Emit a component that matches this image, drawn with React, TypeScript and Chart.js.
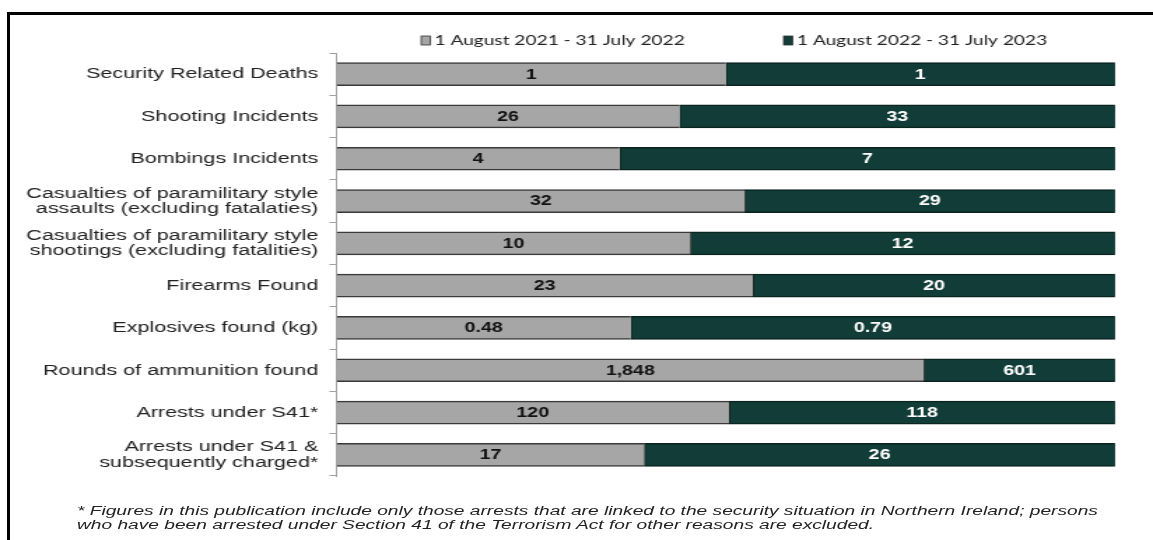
import React, { useEffect, useRef } from "react";
import { Chart, registerables } from "chart.js";

Chart.register(...registerables);

const categories: (string | string[])[] = [
  "Security Related Deaths",
  "Shooting Incidents",
  "Bombings Incidents",
  ["Casualties of paramilitary style", "assaults (excluding fatalaties)"],
  ["Casualties of paramilitary style", "shootings (excluding fatalities)"],
  "Firearms Found",
  "Explosives found (kg)",
  "Rounds of ammunition found",
  "Arrests under S41*",
  ["Arrests under S41 &", "subsequently charged*"],
];

const period1Label = "1 August 2021 - 31 July 2022";
const period2Label = "1 August 2022 - 31 July 2023";

const period1Values = [1, 26, 4, 32, 10, 23, 0.48, 1848, 120, 17];
const period2Values = [1, 33, 7, 29, 12, 20, 0.79, 601, 118, 26];

const footnoteLines = [
  "* Figures in this publication include only those arrests that are linked to the security situation in Northern Ireland; persons",
  "who have been arrested under Section 41 of the Terrorism Act for other reasons are excluded.",
];

const GREY = "#a6a6a6";
const GREEN = "#113c37";

// horizontal stretch of the original picture
const LOGICAL_W = 824;
const STRETCH = 1153 / LOGICAL_W;

const shareOf = (a: number[], b: number[]) => a.map((v, i) => (v / (v + b[i])) * 100);

const formatValue = (v: number) =>
  Number.isInteger(v) ? v.toLocaleString("en-GB") : v.toFixed(2);

export default function App() {
  const canvasRef = useRef<HTMLCanvasElement | null>(null);

  useEffect(() => {
    if (!canvasRef.current) return;
    const raw = [period1Values, period2Values];

    const valueLabels = {
      id: "valueLabels",
      afterDatasetsDraw(chart: any) {
        const ctx = chart.ctx;
        ctx.save();
        ctx.font = "bold 14px 'Liberation Sans', Arial, sans-serif";
        ctx.textAlign = "center";
        ctx.textBaseline = "middle";
        chart.data.datasets.forEach((ds: any, di: number) => {
          const meta = chart.getDatasetMeta(di);
          ctx.fillStyle = di === 0 ? "#111" : "#ffffff";
          meta.data.forEach((el: any, i: number) => {
            const cx = (el.x + el.base) / 2;
            ctx.fillText(formatValue(raw[di][i]), cx, el.y + 0.5);
          });
        });
        ctx.restore();
      },
    };

    const customLegend = {
      id: "customLegend",
      afterDraw(chart: any) {
        const ctx = chart.ctx;
        ctx.save();
        const items = [
          { label: period1Label, color: GREY, bx: 301, tx: 310.5 },
          { label: period2Label, color: GREEN, bx: 560, tx: 569.5 },
        ];
        const yc = 40.5;
        ctx.font = "15px Lato, 'Open Sans', sans-serif";
        const measured = ctx.measureText(period1Label).width;
        const size = (15 * 179) / measured;
        ctx.font = `${size}px Lato, 'Open Sans', sans-serif`;
        ctx.textBaseline = "middle";
        ctx.textAlign = "left";
        items.forEach((it) => {
          ctx.fillStyle = it.color;
          ctx.fillRect(it.bx, yc - 4.5, 6.5, 9);
          ctx.strokeStyle = "#333";
          ctx.lineWidth = 0.8;
          ctx.strokeRect(it.bx, yc - 4.5, 6.5, 9);
          ctx.fillStyle = "#222";
          ctx.fillText(it.label, it.tx, yc + 0.5);
        });
        ctx.restore();
      },
    };

    const chart = new Chart(canvasRef.current, {
      type: "bar",
      data: {
        labels: categories,
        datasets: [
          {
            label: period1Label,
            data: shareOf(period1Values, period2Values),
            backgroundColor: GREY,
            borderColor: "#3a3a3a",
            borderWidth: { top: 1.5, bottom: 1.5, left: 0, right: 0 },
            borderSkipped: false,
            barThickness: 23,
          },
          {
            label: period2Label,
            data: shareOf(period2Values, period1Values),
            backgroundColor: GREEN,
            borderColor: "#0a2420",
            borderWidth: { top: 1.5, bottom: 1.5, left: 1.2, right: 0.8 },
            borderSkipped: false,
            barThickness: 23,
          },
        ],
      },
      options: {
        responsive: false,
        animation: false,
        indexAxis: "y",
        layout: { padding: { top: 53, bottom: 64, left: 0, right: LOGICAL_W - 1115 / STRETCH } },
        plugins: {
          legend: { display: false },
          tooltip: { enabled: false },
        },
        scales: {
          x: { display: false, stacked: true, min: 0, max: 100 },
          y: {
            stacked: true,
            afterFit: (scale: any) => {
              scale.width = 336.5 / STRETCH;
            },
            grid: {
              offset: true,
              drawOnChartArea: false,
              drawTicks: true,
              tickLength: 5,
              color: "#a0a0a0",
              lineWidth: 1,
            },
            border: { display: true, color: "#a0a0a0", width: 1 },
            ticks: {
              autoSkip: false,
              padding: 8,
              color: "#222",
              font: { family: "'Liberation Sans', Arial, sans-serif", size: 15.4, lineHeight: 1.0 },
            },
          },
        },
      },
      plugins: [valueLabels, customLegend],
    } as any);

    return () => chart.destroy();
  }, []);

  return (
    <div>
      <div
        style={{
          position: "fixed",
          left: 7,
          top: 12,
          width: 1153 - 7,
          height: 540 - 12,
          borderTop: "3px solid #000",
          borderLeft: "3px solid #000",
          boxSizing: "border-box",
        }}
      />
      <div
        style={{
          position: "fixed",
          left: 0,
          top: 0,
          width: LOGICAL_W,
          height: 540,
          transform: `scaleX(${STRETCH})`,
          transformOrigin: "0 0",
        }}
      >
        <canvas ref={canvasRef} width={LOGICAL_W} height={540} style={{ display: "block" }} />
        <div
          style={{
            position: "absolute",
            left: 77 / STRETCH,
            top: 503.5,
            fontFamily: "'Liberation Sans', Arial, sans-serif",
            fontStyle: "italic",
            fontSize: 13.7,
            lineHeight: "14px",
            color: "#222",
            whiteSpace: "nowrap",
          }}
        >
          {footnoteLines.map((l, i) => (
            <div key={i}>{l}</div>
          ))}
        </div>
      </div>
    </div>
  );
}
